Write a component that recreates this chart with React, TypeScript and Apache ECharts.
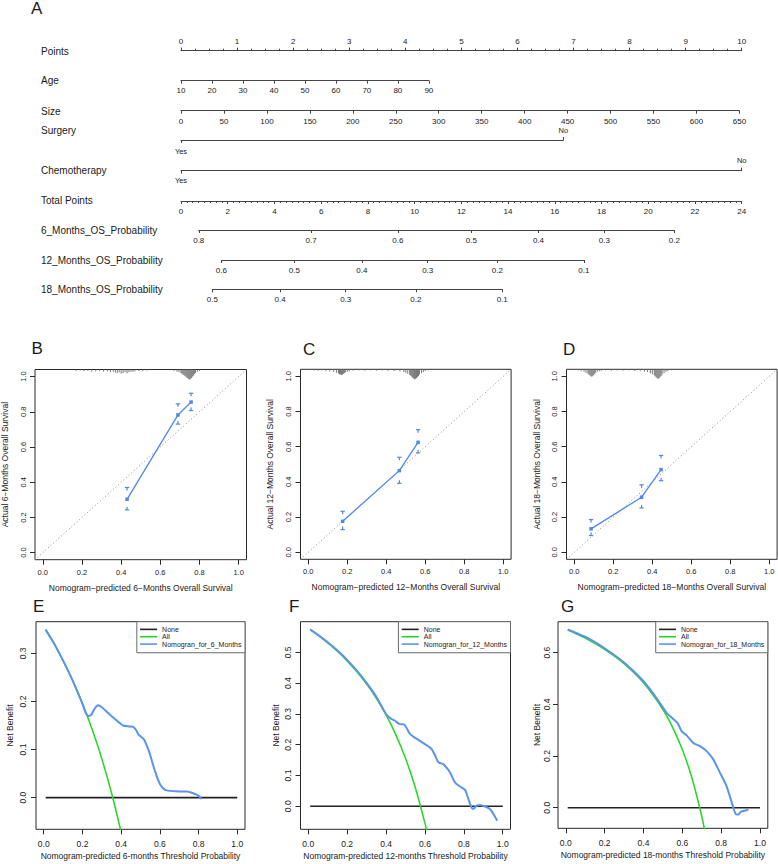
import React, { useEffect, useRef } from "react";
import * as echarts from "echarts";

// ================= DATA =================
// Nomogram (A)
const pointsRange = [0, 10];
const ageRange = [10, 90];
const agePoints = [0, 4.42];
const sizeRange = [0, 650];
const sizePoints = [0, 9.96];
const surgeryLevels = ["Yes", "No"];
const surgeryPoints = [0, 6.82];
const chemoLevels = ["Yes", "No"];
const chemoPoints = [0, 10];
const totalRange = [0, 24];
const os6Labels = ["0.8", "0.7", "0.6", "0.5", "0.4", "0.3", "0.2"];
const os6Total = [0.76, 5.57, 9.28, 12.43, 15.3, 18.12, 21.12];
const os12Labels = ["0.6", "0.5", "0.4", "0.3", "0.2", "0.1"];
const os12Total = [1.73, 4.85, 7.74, 10.56, 13.54, 17.24];
const os18Labels = ["0.5", "0.4", "0.3", "0.2", "0.1"];
const os18Total = [1.34, 4.24, 7.05, 10.05, 13.75];
const rowNames = ["Points", "Age", "Size", "Surgery", "Chemotherapy", "Total Points", "6_Months_OS_Probability", "12_Months_OS_Probability", "18_Months_OS_Probability"];

// Calibration (B, C, D)
const calTicks = [0, 0.2, 0.4, 0.6, 0.8, 1.0];
const cal6X = [0.43, 0.69, 0.757];
const cal6Y = [0.303, 0.782, 0.855];
const cal6Lo = [0.243, 0.73, 0.807];
const cal6Hi = [0.37, 0.845, 0.905];
const cal12X = [0.176, 0.467, 0.563];
const cal12Y = [0.176, 0.464, 0.625];
const cal12Lo = [0.129, 0.392, 0.565];
const cal12Hi = [0.233, 0.54, 0.697];
const cal18X = [0.086, 0.345, 0.445];
const cal18Y = [0.133, 0.313, 0.47];
const cal18Lo = [0.095, 0.252, 0.407];
const cal18Hi = [0.186, 0.383, 0.55];

const rug6X = [0.17, 0.19, 0.21, 0.23, 0.25, 0.27, 0.29, 0.31, 0.33, 0.345, 0.36, 0.37, 0.38, 0.39, 0.4, 0.41, 0.42, 0.43, 0.44, 0.45, 0.46, 0.47, 0.49, 0.51, 0.53, 0.67, 0.685, 0.695, 0.705, 0.71, 0.715, 0.72, 0.725, 0.73, 0.735, 0.74, 0.745, 0.75, 0.755, 0.76, 0.765, 0.77, 0.775, 0.78, 0.79, 0.8];
const rug6H = [0.008, 0.006, 0.01, 0.008, 0.012, 0.01, 0.008, 0.012, 0.01, 0.015, 0.012, 0.018, 0.02, 0.016, 0.024, 0.02, 0.015, 0.022, 0.016, 0.012, 0.014, 0.01, 0.008, 0.01, 0.006, 0.008, 0.012, 0.015, 0.02, 0.024, 0.028, 0.032, 0.036, 0.04, 0.046, 0.05, 0.055, 0.058, 0.052, 0.048, 0.04, 0.034, 0.026, 0.02, 0.012, 0.008];
const rug12X = [0.03, 0.05, 0.07, 0.09, 0.11, 0.13, 0.145, 0.155, 0.16, 0.165, 0.17, 0.175, 0.18, 0.185, 0.19, 0.2, 0.21, 0.23, 0.26, 0.29, 0.32, 0.35, 0.38, 0.41, 0.44, 0.47, 0.49, 0.5, 0.51, 0.52, 0.525, 0.53, 0.535, 0.54, 0.545, 0.55, 0.555, 0.56, 0.565, 0.57, 0.58, 0.59, 0.6, 0.615];
const rug12H = [0.006, 0.008, 0.006, 0.01, 0.012, 0.015, 0.02, 0.024, 0.028, 0.03, 0.033, 0.03, 0.026, 0.022, 0.018, 0.014, 0.01, 0.008, 0.006, 0.008, 0.006, 0.008, 0.006, 0.008, 0.01, 0.012, 0.016, 0.02, 0.026, 0.032, 0.036, 0.042, 0.048, 0.052, 0.057, 0.054, 0.05, 0.044, 0.038, 0.03, 0.022, 0.016, 0.01, 0.006];
const rug18X = [0.02, 0.035, 0.05, 0.06, 0.07, 0.075, 0.08, 0.085, 0.09, 0.095, 0.1, 0.105, 0.11, 0.12, 0.13, 0.14, 0.16, 0.19, 0.22, 0.25, 0.28, 0.31, 0.34, 0.36, 0.375, 0.39, 0.4, 0.41, 0.415, 0.42, 0.425, 0.43, 0.435, 0.44, 0.445, 0.45, 0.46, 0.47, 0.48, 0.5];
const rug18H = [0.006, 0.01, 0.014, 0.02, 0.026, 0.03, 0.035, 0.04, 0.042, 0.038, 0.032, 0.026, 0.02, 0.014, 0.01, 0.008, 0.006, 0.008, 0.006, 0.008, 0.006, 0.01, 0.008, 0.012, 0.016, 0.022, 0.028, 0.034, 0.04, 0.046, 0.05, 0.055, 0.05, 0.044, 0.038, 0.03, 0.022, 0.014, 0.01, 0.006];

// Decision curves (E, F, G)
const dcaXTicks = [0, 0.2, 0.4, 0.6, 0.8, 1.0];
const noneX = [0.01, 1.0];
const noneY = [0, 0];
const all6X = [0.01, 0.05, 0.1, 0.15, 0.2, 0.25, 0.3, 0.35, 0.4];
const all6Y = [0.35, 0.323, 0.285, 0.243, 0.196, 0.142, 0.081, 0.01, -0.072];
const nomo6X = [0.01, 0.05, 0.1, 0.15, 0.2, 0.215, 0.23, 0.245, 0.26, 0.28, 0.3, 0.33, 0.36, 0.39, 0.41, 0.44, 0.463, 0.478, 0.49, 0.505, 0.518, 0.535, 0.549, 0.562, 0.575, 0.588, 0.601, 0.618, 0.635, 0.68, 0.739, 0.765, 0.79, 0.805, 0.816];
const nomo6Y = [0.349, 0.323, 0.285, 0.243, 0.195, 0.178, 0.17, 0.172, 0.183, 0.192, 0.188, 0.177, 0.166, 0.156, 0.15, 0.148, 0.147, 0.14, 0.131, 0.126, 0.121, 0.106, 0.09, 0.072, 0.055, 0.04, 0.028, 0.019, 0.015, 0.013, 0.0125, 0.01, 0.006, 0.002, -0.003];
const all12X = [0.01, 0.05, 0.1, 0.15, 0.2, 0.25, 0.3, 0.35, 0.4, 0.45, 0.5, 0.55, 0.6, 0.62];
const all12Y = [0.574, 0.556, 0.531, 0.504, 0.4725, 0.437, 0.397, 0.351, 0.297, 0.233, 0.156, 0.062, -0.055, -0.11];
const nomo12X = [0.01, 0.05, 0.1, 0.15, 0.2, 0.25, 0.3, 0.35, 0.4, 0.425, 0.446, 0.46, 0.472, 0.492, 0.505, 0.523, 0.545, 0.566, 0.6, 0.634, 0.65, 0.669, 0.694, 0.71, 0.729, 0.754, 0.78, 0.806, 0.823, 0.84, 0.849, 0.857, 0.866, 0.883, 0.909, 0.934, 0.952, 0.972];
const nomo12Y = [0.575, 0.557, 0.533, 0.506, 0.476, 0.441, 0.401, 0.356, 0.3, 0.285, 0.278, 0.271, 0.267, 0.266, 0.255, 0.235, 0.224, 0.216, 0.202, 0.186, 0.168, 0.143, 0.137, 0.126, 0.11, 0.078, 0.064, 0.053, 0.024, -0.005, -0.009, -0.004, 0.002, 0.004, -0.001, -0.009, -0.025, -0.047];
const all18X = [0.01, 0.05, 0.1, 0.2, 0.3, 0.4, 0.5, 0.55, 0.6, 0.65, 0.7, 0.72];
const all18Y = [0.687, 0.674, 0.656, 0.6125, 0.557, 0.483, 0.38, 0.311, 0.225, 0.114, -0.033, -0.107];
const nomo18X = [0.01, 0.05, 0.117, 0.2, 0.3, 0.391, 0.46, 0.52, 0.545, 0.575, 0.597, 0.623, 0.657, 0.691, 0.726, 0.76, 0.794, 0.828, 0.863, 0.877, 0.889, 0.902, 0.931, 0.94];
const nomo18Y = [0.69, 0.677, 0.655, 0.617, 0.562, 0.497, 0.432, 0.366, 0.349, 0.328, 0.295, 0.279, 0.25, 0.238, 0.218, 0.186, 0.135, 0.083, 0.0, -0.026, -0.026, -0.015, -0.01, -0.006];

// ================= STYLE =================
const FONT = "'Liberation Sans', Arial, Helvetica, sans-serif";
const INK = "#1a1a1a";
const NOMO = "#444";
const BOX = "#2a2a2a";
const BLUE = "#5b93ee";
const CALBLUE = "#4f88e8";
const GREEN = "#22d822";

const pairs = (xs: number[], ys: number[]) => xs.map((x, i) => [x, ys[i]]);
const fmt1 = (v: number) => Number(v).toFixed(1);
function labelFor(vals: number[], labels: string[], v: number) {
  let best = 0;
  for (let i = 0; i < vals.length; i++) if (Math.abs(vals[i] - v) < Math.abs(vals[best] - v)) best = i;
  return labels[best];
}

function buildOption() {
  const grids: any[] = [];
  const xAxes: any[] = [];
  const yAxes: any[] = [];
  const series: any[] = [];
  const graphics: any[] = [];
  const legends: any[] = [];

  // ---------- Nomogram ----------
  const NX0 = 181;
  const NW = 560.7;
  const PT = NW / (pointsRange[1] - pointsRange[0]);
  const TP = NW / (totalRange[1] - totalRange[0]);
  const lineYs = [50.7, 80.7, 110.7, 140, 170.7, 201, 230, 260, 289.3];
  const labelYs = [51.5, 80.5, 111, 130.7, 170.3, 200.8, 230, 260, 289.5];
  const nomoText = { fontSize: 8, color: INK, fontFamily: FONT };

  function rowGrid(lineY: number, left: number, width: number, pos: string) {
    grids.push({ left, width, top: pos === "top" ? lineY : lineY - 1, height: 1, show: false, containLabel: false, outerBoundsMode: "none" });
    const gi = grids.length - 1;
    yAxes.push({ gridIndex: gi, type: "value", show: false, min: 0, max: 1 });
    return gi;
  }
  const baseAxis = (gi: number, pos: string) => ({
    gridIndex: gi,
    type: "value",
    position: pos,
    axisLine: { show: true, onZero: false, lineStyle: { color: NOMO, width: 1 } },
    axisTick: { show: true, length: 3, lineStyle: { color: NOMO, width: 1 } },
    splitLine: { show: false },
    minorSplitLine: { show: false },
  });

  // Points
  {
    const gi = rowGrid(lineYs[0], NX0, NW, "top");
    xAxes.push({
      ...baseAxis(gi, "top"),
      min: pointsRange[0],
      max: pointsRange[1],
      interval: 1,
      minorTick: { show: true, splitNumber: 4, length: 2, lineStyle: { color: NOMO } },
      axisLabel: { ...nomoText, margin: 5.5, showMinLabel: true, showMaxLabel: true },
    });
  }
  // Age
  {
    const gi = rowGrid(lineYs[1], NX0 + agePoints[0] * PT, (agePoints[1] - agePoints[0]) * PT, "bottom");
    xAxes.push({ ...baseAxis(gi, "bottom"), min: ageRange[0], max: ageRange[1], interval: 10, axisLabel: { ...nomoText, margin: 6, showMinLabel: true, showMaxLabel: true } });
  }
  // Size
  {
    const gi = rowGrid(lineYs[2], NX0 + sizePoints[0] * PT, (sizePoints[1] - sizePoints[0]) * PT, "bottom");
    xAxes.push({ ...baseAxis(gi, "bottom"), min: sizeRange[0], max: sizeRange[1], interval: 50, axisLabel: { ...nomoText, margin: 6.5, showMinLabel: true, showMaxLabel: true } });
  }
  // Binary rows
  const binaryRow = (row: number, levels: string[], pts: number[], mBottom: number, mTop: number) => {
    const gi = rowGrid(lineYs[row], NX0 + pts[0] * PT, (pts[1] - pts[0]) * PT, "bottom");
    const b = baseAxis(gi, "bottom");
    xAxes.push({
      ...b, min: 0, max: 1,
      axisTick: { ...b.axisTick, customValues: [0] },
      axisLabel: { ...nomoText, fontSize: 7.5, margin: mBottom, customValues: [0], formatter: () => levels[0] },
    });
    const t = baseAxis(gi, "top");
    xAxes.push({
      ...t, min: 0, max: 1, offset: -1,
      axisLine: { show: false, onZero: false },
      axisTick: { ...t.axisTick, customValues: [1] },
      axisLabel: { ...nomoText, fontSize: 7.5, margin: mTop, customValues: [1], formatter: () => levels[1] },
    });
  };
  binaryRow(3, surgeryLevels, surgeryPoints, 7, 5.5);
  binaryRow(4, chemoLevels, chemoPoints, 6, 6);
  // Total points
  {
    const gi = rowGrid(lineYs[5], NX0, NW, "bottom");
    xAxes.push({
      ...baseAxis(gi, "bottom"),
      min: totalRange[0], max: totalRange[1], interval: 2,
      minorTick: { show: true, splitNumber: 8, length: 2, lineStyle: { color: NOMO } },
      axisLabel: { ...nomoText, margin: 6, showMinLabel: true, showMaxLabel: true },
    });
  }
  // Probability rows
  const probRow = (row: number, totals: number[], labels: string[]) => {
    const lo = totals[0];
    const hi = totals[totals.length - 1];
    const gi = rowGrid(lineYs[row], NX0 + lo * TP, (hi - lo) * TP, "bottom");
    const b = baseAxis(gi, "bottom");
    xAxes.push({
      ...b, min: lo, max: hi,
      axisTick: { ...b.axisTick, customValues: totals },
      axisLabel: { ...nomoText, margin: 6, customValues: totals, formatter: (v: number) => labelFor(totals, labels, v) },
    });
  };
  probRow(6, os6Total, os6Labels);
  probRow(7, os12Total, os12Labels);
  probRow(8, os18Total, os18Labels);

  rowNames.forEach((name, i) => {
    graphics.push({ type: "text", x: 41, y: labelYs[i], style: { text: name, fontSize: 10, fontFamily: FONT, fill: INK, align: "left", verticalAlign: "middle" } });
  });

  // ---------- Panel letters ----------
  const letters: [string, number, number][] = [
    ["A", 31, 8], ["B", 31.5, 348.5], ["C", 303, 349], ["D", 563, 349], ["E", 33, 606], ["F", 289, 606], ["G", 561, 606],
  ];
  letters.forEach(([t, x, y]) => {
    graphics.push({ type: "text", x, y, style: { text: t, fontSize: 17, fontFamily: FONT, fill: INK, align: "left", verticalAlign: "middle" } });
  });

  // ---------- Calibration panels ----------
  const calPanel = (box: number[], months: string, xs: number[], ys: number[], lo: number[], hi: number[], rx: number[], rh: number[], yGap: number) => {
    grids.push({ left: box[0], top: box[1], width: box[2], height: box[3], show: true, borderColor: BOX, borderWidth: 1, backgroundColor: "transparent", containLabel: false, outerBoundsMode: "none" });
    const gi = grids.length - 1;
    const xi = xAxes.length;
    xAxes.push({
      gridIndex: gi, type: "value", min: -0.04, max: 1.04, position: "bottom",
      axisLine: { show: false, onZero: false }, splitLine: { show: false },
      axisTick: { show: true, length: 5, customValues: calTicks, lineStyle: { color: BOX } },
      axisLabel: { customValues: calTicks, formatter: fmt1, fontSize: 7.5, margin: 8.5, color: INK, fontFamily: FONT },
      name: `Nomogram\u2212predicted ${months}\u2212Months Overall Survival`, nameLocation: "middle", nameGap: 23.5, nameMoveOverlap: false,
      nameTextStyle: { fontSize: 8.5, color: INK, fontFamily: FONT },
    });
    const yi = yAxes.length;
    yAxes.push({
      gridIndex: gi, type: "value", min: -0.04, max: 1.04, position: "left",
      axisLine: { show: false, onZero: false }, splitLine: { show: false },
      axisTick: { show: true, length: 5, customValues: calTicks, lineStyle: { color: BOX } },
      axisLabel: { customValues: calTicks, formatter: fmt1, rotate: 90, fontSize: 7.5, margin: 8, color: INK, fontFamily: FONT },
      name: `Actual ${months}\u2212Months Overall Survival`, nameLocation: "middle", nameGap: yGap, nameMoveOverlap: false,
      nameTextStyle: { fontSize: 8.5, color: INK, fontFamily: FONT },
    });
    series.push({
      type: "line", xAxisIndex: xi, yAxisIndex: yi, silent: true, symbol: "none",
      data: [[-0.04, -0.04], [1.04, 1.04]],
      lineStyle: { color: "#8a8a8a", width: 1, type: [1, 2.5] },
    });
    series.push({
      type: "custom", xAxisIndex: xi, yAxisIndex: yi, silent: true,
      data: pairs(rx, rh),
      renderItem: (_p: any, api: any) => {
        const x = api.value(0);
        const h = api.value(1);
        const a = api.coord([x, 1.04]);
        const b = api.coord([x, 1.04 - h]);
        return { type: "line", shape: { x1: a[0], y1: a[1], x2: b[0], y2: b[1] }, style: { stroke: "#6a6a6a", lineWidth: 0.9 } };
      },
    });
    series.push({
      type: "line", xAxisIndex: xi, yAxisIndex: yi, silent: true,
      data: pairs(xs, ys), color: CALBLUE, symbol: "rect", symbolSize: 3.5, showSymbol: true,
      lineStyle: { color: CALBLUE, width: 1.3 }, itemStyle: { color: CALBLUE },
    });
    series.push({
      type: "custom", xAxisIndex: xi, yAxisIndex: yi, silent: true,
      data: xs.map((x, i) => [x, lo[i], hi[i]]),
      renderItem: (_p: any, api: any) => {
        const x = api.value(0);
        const top = api.coord([x, api.value(2)]);
        const bot = api.coord([x, api.value(1)]);
        const w = 2.2;
        const s = 3;
        const st = { stroke: CALBLUE, lineWidth: 1.2 };
        return {
          type: "group",
          children: [
            { type: "line", shape: { x1: top[0] - w, y1: top[1], x2: top[0] + w, y2: top[1] }, style: st },
            { type: "line", shape: { x1: top[0], y1: top[1], x2: top[0], y2: top[1] + s }, style: st },
            { type: "line", shape: { x1: bot[0] - w, y1: bot[1], x2: bot[0] + w, y2: bot[1] }, style: st },
            { type: "line", shape: { x1: bot[0], y1: bot[1], x2: bot[0], y2: bot[1] - s }, style: st },
          ],
        };
      },
    });
  };
  calPanel([35, 369.5, 211.5, 190.2], "6", cal6X, cal6Y, cal6Lo, cal6Hi, rug6X, rug6H, 25.5);
  calPanel([300.5, 369.3, 210.6, 190], "12", cal12X, cal12Y, cal12Lo, cal12Hi, rug12X, rug12H, 26);
  calPanel([566.5, 369.3, 210.6, 190], "18", cal18X, cal18Y, cal18Lo, cal18Hi, rug18X, rug18H, 25.5);

  // ---------- Decision curve panels ----------
  const dcaPanel = (box: number[], months: string, yRange: number[], yTicks: number[], allX: number[], allY: number[], nX: number[], nY: number[], yMargin: number, yGap: number) => {
    grids.push({ left: box[0], top: box[1], width: box[2], height: box[3], show: true, borderColor: BOX, borderWidth: 1, backgroundColor: "transparent", containLabel: false, outerBoundsMode: "none" });
    const gi = grids.length - 1;
    const xi = xAxes.length;
    xAxes.push({
      gridIndex: gi, type: "value", min: -0.04, max: 1.04, position: "bottom",
      axisLine: { show: false, onZero: false }, splitLine: { show: false },
      axisTick: { show: true, length: 5, customValues: dcaXTicks, lineStyle: { color: BOX } },
      axisLabel: { customValues: dcaXTicks, formatter: fmt1, fontSize: 8.5, margin: 10.5, color: INK, fontFamily: FONT },
      name: `Nomogram-predicted ${months}-months Threshold Probability`, nameLocation: "middle", nameGap: 22.5, nameMoveOverlap: false,
      nameTextStyle: { fontSize: 8.5, color: INK, fontFamily: FONT },
    });
    const yi = yAxes.length;
    yAxes.push({
      gridIndex: gi, type: "value", min: yRange[0], max: yRange[1], position: "left",
      axisLine: { show: false, onZero: false }, splitLine: { show: false },
      axisTick: { show: true, length: 5, customValues: yTicks, lineStyle: { color: BOX } },
      axisLabel: { customValues: yTicks, formatter: fmt1, rotate: 90, fontSize: 8.5, margin: yMargin, color: INK, fontFamily: FONT },
      name: "Net Benefit", nameLocation: "middle", nameGap: yGap, nameMoveOverlap: false,
      nameTextStyle: { fontSize: 8.5, color: INK, fontFamily: FONT },
    });
    const nomoName = `Nomogran_for_${months}_Months`;
    series.push({
      name: "None", type: "line", xAxisIndex: xi, yAxisIndex: yi, silent: true, symbol: "none",
      data: pairs(noneX, noneY), color: "#222", lineStyle: { color: "#222", width: 1.6 }, itemStyle: { color: "#222" },
    });
    series.push({
      name: "All", type: "line", xAxisIndex: xi, yAxisIndex: yi, silent: true, symbol: "none", smooth: 0.3, clip: true,
      data: pairs(allX, allY), color: GREEN, lineStyle: { color: GREEN, width: 1.5 }, itemStyle: { color: GREEN },
    });
    series.push({
      name: nomoName, type: "line", xAxisIndex: xi, yAxisIndex: yi, silent: true, symbol: "none", smooth: 0.25, clip: true,
      data: pairs(nX, nY), color: BLUE, lineStyle: { color: BLUE, width: 2 }, itemStyle: { color: BLUE },
    });
    legends.push({
      data: ["None", "All", nomoName],
      right: 778 - (box[0] + box[2]), top: box[1],
      orient: "vertical", selectedMode: false,
      icon: "rect", itemWidth: 17, itemHeight: 1.6, itemGap: 0,
      padding: [4, 3.5, 5, 3.3],
      borderColor: "#6a6a6a", borderWidth: 1, backgroundColor: "#fff",
      textStyle: { fontSize: 7, lineHeight: 7.35, color: INK, fontFamily: FONT },
    });
  };
  dcaPanel([36, 621.7, 209, 207.6], "6", [-0.066, 0.366], [0, 0.1, 0.2, 0.3], all6X, all6Y, nomo6X, nomo6Y, 8.5, 21.5);
  dcaPanel([300.5, 621.7, 210, 207.6], "12", [-0.075, 0.6], [0, 0.1, 0.2, 0.3, 0.4, 0.5], all12X, all12Y, nomo12X, nomo12Y, 8, 20);
  dcaPanel([558, 621.7, 209.8, 206.6], "18", [-0.0796, 0.7196], [0, 0.2, 0.4, 0.6], all18X, all18Y, nomo18X, nomo18Y, 7, 16.5);

  return {
    animation: false,
    backgroundColor: "#ffffff",
    textStyle: { fontFamily: FONT },
    grid: grids,
    xAxis: xAxes,
    yAxis: yAxes,
    series,
    legend: legends,
    graphic: graphics,
  };
}

export default function App() {
  const ref = useRef<HTMLDivElement>(null);
  useEffect(() => {
    document.body.style.margin = "0";
    if (!ref.current) return;
    const chart = echarts.init(ref.current, null, { renderer: "svg" });
    chart.setOption(buildOption() as any);
    return () => chart.dispose();
  }, []);
  return <div ref={ref} style={{ width: 778, height: 864 }} />;
}
